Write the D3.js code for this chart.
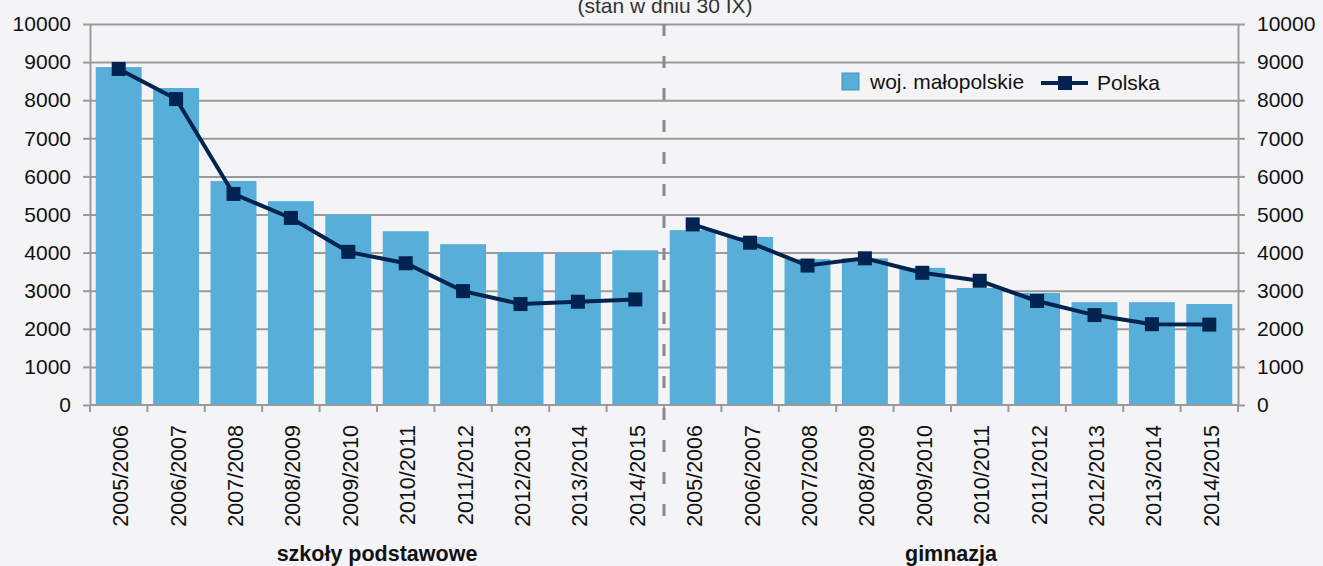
<!DOCTYPE html>
<html>
<head>
<meta charset="utf-8">
<script src="https://cdn.jsdelivr.net/npm/d3@7"></script>
<style>
  body { margin: 0; background: #f4f4f6; }
  svg { display: block; font-family: "Liberation Sans", Arial, sans-serif; }
</style>
</head>
<body>
<svg id="chart" width="1323" height="566"></svg>
<script>

var groups = ["szkoły podstawowe", "gimnazja"];
var years = ["2005/2006","2006/2007","2007/2008","2008/2009","2009/2010",
             "2010/2011","2011/2012","2012/2013","2013/2014","2014/2015"];
// woj. małopolskie (bars), first 10 = szkoły podstawowe, next 10 = gimnazja
var malopolskie = [8870, 8320, 5880, 5350, 5000, 4560, 4220, 4010, 3990, 4060,
                   4590, 4410, 3830, 3850, 3600, 3070, 2940, 2700, 2700, 2650];
// Polska (line)
var polska = [8820, 8030, 5540, 4910, 4020, 3720, 2990, 2650, 2710, 2770,
              4740, 4260, 3660, 3850, 3470, 3260, 2730, 2360, 2120, 2110];
var yTicks = [0,1000,2000,3000,4000,5000,6000,7000,8000,9000,10000];
var subtitle = "(stan w dniu 30 IX)";
var seriesNames = ["woj. małopolskie", "Polska"];

function draw(){

  var rows = [];
  groups.forEach(function(g, gi){
    years.forEach(function(yr, yi){
      var i = gi*years.length + yi;
      rows.push({key: g + "|" + yr, group: g, year: yr, m: malopolskie[i], p: polska[i]});
    });
  });

  var svg = d3.select("#chart");
  var xLeft = 90, xRight = 1238, yTop = 24, yBottom = 405;
  var barColor = "#56aed9", lineColor = "#00234f", gridColor = "#9a9a9a";
  var fs = "21px";

  var x = d3.scaleBand().domain(rows.map(function(d){return d.key;}))
            .range([xLeft, xRight]).paddingInner(0.2).paddingOuter(0.1);
  var y = d3.scaleLinear().domain([0, 10000]).range([yBottom, yTop]);

  // grid lines
  svg.append("g")
     .attr("transform", "translate(" + xLeft + ",0)")
     .call(d3.axisLeft(y).tickValues(yTicks.slice(1)).tickSize(-(xRight-xLeft)).tickFormat(""))
     .call(function(g){ g.select(".domain").remove(); })
     .selectAll("line").attr("stroke", gridColor).attr("stroke-width", 2);

  // bars
  svg.append("g").selectAll("rect")
     .data(rows).enter()
     .append("rect")
     .attr("x", function(d){return x(d.key);})
     .attr("y", function(d){return y(d.m);})
     .attr("width", x.bandwidth())
     .attr("height", function(d){return y(0) - y(d.m);})
     .attr("fill", barColor);

  // left and right axes
  function styleAxis(g){
    g.selectAll(".domain").attr("stroke", gridColor).attr("stroke-width", 2);
    g.selectAll(".tick line").attr("stroke", gridColor).attr("stroke-width", 2);
    g.selectAll("text").attr("fill", "#111").style("font-size", fs)
     .style("font-family", "'Liberation Sans', Arial, sans-serif");
  }
  svg.append("g")
     .attr("transform", "translate(" + xLeft + ",0)")
     .call(d3.axisLeft(y).tickValues(yTicks).tickFormat(d3.format("d"))
             .tickSize(7).tickSizeOuter(0).tickPadding(12))
     .call(styleAxis);
  svg.append("g")
     .attr("transform", "translate(" + xRight + ",0)")
     .call(d3.axisRight(y).tickValues(yTicks).tickFormat(d3.format("d"))
             .tickSize(7).tickSizeOuter(0).tickPadding(12))
     .call(styleAxis);

  // x axis: ticks at band boundaries
  var cell = (xRight - xLeft) / rows.length;
  var xAxisG = svg.append("g").attr("transform", "translate(0," + yBottom + ")");
  xAxisG.append("line").attr("x1", xLeft).attr("x2", xRight)
     .attr("stroke", gridColor).attr("stroke-width", 2);
  xAxisG.selectAll("line.tk")
     .data(d3.range(rows.length + 1)).enter()
     .append("line").attr("class", "tk")
     .attr("x1", function(i){return xLeft + i*cell;})
     .attr("x2", function(i){return xLeft + i*cell;})
     .attr("y1", 0).attr("y2", 7)
     .attr("stroke", gridColor).attr("stroke-width", 2);

  // x labels (rotated)
  svg.append("g").selectAll("text")
     .data(rows).enter()
     .append("text")
     .attr("transform", function(d){
       return "translate(" + (x(d.key) + x.bandwidth()/2 + 2) + "," + (yBottom + 20) + ") rotate(-90)";
     })
     .attr("dy", "0.35em")
     .attr("text-anchor", "end")
     .style("font-size", "21.5px")
     .attr("fill", "#111")
     .text(function(d){return d.year;});

  // group divider
  var divX = xLeft + (xRight-xLeft)/2;
  svg.append("line")
     .attr("x1", divX).attr("x2", divX)
     .attr("y1", yTop).attr("y2", 536)
     .attr("stroke", "#8a8a8a").attr("stroke-width", 3)
     .attr("stroke-dasharray", "12,20");

  // group labels
  svg.append("g").selectAll("text")
     .data(groups).enter()
     .append("text")
     .attr("x", function(g){
       var keys = rows.filter(function(d){return d.group === g;}).map(function(d){return d.key;});
       return (x(keys[0]) + x(keys[keys.length-1]) + x.bandwidth())/2;
     })
     .attr("y", 561)
     .attr("text-anchor", "middle")
     .style("font-size", "21.5px")
     .style("font-weight", "bold")
     .attr("fill", "#111")
     .text(function(g){return g;});

  // line series, one segment per group
  var line = d3.line()
     .x(function(d){return x(d.key) + x.bandwidth()/2;})
     .y(function(d){return y(d.p);});
  groups.forEach(function(g){
    var gr = rows.filter(function(d){return d.group === g;});
    svg.append("path").datum(gr)
       .attr("d", line)
       .attr("fill", "none")
       .attr("stroke", lineColor)
       .attr("stroke-width", 4);
  });
  var ms = 14;
  svg.append("g").selectAll("rect")
     .data(rows).enter()
     .append("rect")
     .attr("x", function(d){return x(d.key) + x.bandwidth()/2 - ms/2;})
     .attr("y", function(d){return y(d.p) - ms/2;})
     .attr("width", ms).attr("height", ms)
     .attr("fill", lineColor);

  // subtitle (clipped at top)
  svg.append("text")
     .attr("x", 665).attr("y", 13)
     .attr("text-anchor", "middle")
     .style("font-size", fs)
     .attr("fill", "#333")
     .text(subtitle);

  // legend
  var lg = svg.append("g");
  lg.append("rect").attr("x", 842).attr("y", 73).attr("width", 17).attr("height", 17)
    .attr("fill", barColor).attr("stroke", "#4a90b8").attr("stroke-width", 1);
  lg.append("text").attr("x", 870).attr("y", 89).style("font-size", fs)
    .attr("fill", "#111").text(seriesNames[0]);
  lg.append("line").attr("x1", 1041).attr("x2", 1088).attr("y1", 83).attr("y2", 83)
    .attr("stroke", lineColor).attr("stroke-width", 4);
  lg.append("rect").attr("x", 1058).attr("y", 76).attr("width", 14).attr("height", 14)
    .attr("fill", lineColor);
  lg.append("text").attr("x", 1097).attr("y", 90).style("font-size", fs)
    .attr("fill", "#111").text(seriesNames[1]);
}

draw();
</script>
</body>
</html>
